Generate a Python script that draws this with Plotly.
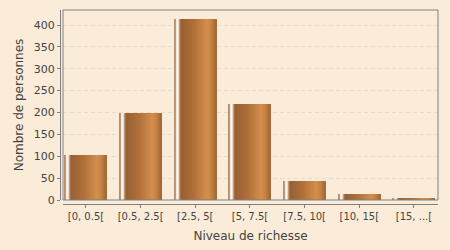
import plotly.graph_objects as go

categories = ["[0, 0.5[", "[0.5, 2.5[", "[2.5, 5[", "[5, 7.5[", "[7.5, 10[", "[10, 15[", "[15, ...["]
values = [104, 200, 414, 220, 43, 14, 3]
y_ticks = [0, 50, 100, 150, 200, 250, 300, 350, 400]

BG = "#FBECD9"
AXIS = "#808080"
TXT = "#444444"
FONT = "DejaVu Sans"

# horizontal colour profile across a bar (px from left of a 42px bar)
profile = [
    (0, (176, 136, 100)), (1.5, (192, 156, 124)), (2.5, (240, 230, 220)),
    (3, (252, 250, 246)), (4, (250, 246, 240)), (5, (212, 186, 160)),
    (6, (170, 122, 86)), (7.5, (152, 96, 50)), (20, (176, 112, 58)),
    (33, (212, 142, 76)), (37, (200, 132, 68)), (42, (160, 104, 56)),
]

def colour_at(p):
    for (p0, c0), (p1, c1) in zip(profile, profile[1:]):
        if p0 <= p <= p1:
            t = (p - p0) / (p1 - p0) if p1 > p0 else 0
            r, g, b = (round(a + (b_ - a) * t) for a, b_ in zip(c0, c1))
            return f"rgb({r},{g},{b})"
    return "rgb(160,104,56)"

BAR_W = 0.768
NPX = 42
fig = go.Figure()
for i in range(NPX):
    fig.add_trace(go.Bar(
        x=categories, y=values,
        offset=-BAR_W / 2 + i * BAR_W / NPX,
        width=BAR_W / NPX * 1.3 if i < NPX - 1 else BAR_W / NPX,
        marker=dict(color=colour_at(i + 0.5), line=dict(width=0)),
        hoverinfo="skip", showlegend=False,
    ))

fig.update_layout(
    width=450, height=250,
    margin=dict(l=60, r=12, t=10, b=46),
    paper_bgcolor=BG, plot_bgcolor=BG,
    barmode="overlay", bargap=0,
    font=dict(family=FONT, size=11, color=TXT),
    xaxis=dict(
        type="category", domain=[3 / 378, 1], anchor="free", position=0,
        range=[-0.42, 6.44], showgrid=False, zeroline=False,
        showline=True, linecolor=AXIS, linewidth=1,
        ticks="outside", ticklen=3, tickcolor=AXIS,
        tickfont=dict(size=10),
        title=dict(text="Niveau de richesse", font=dict(size=12), standoff=10),
    ),
    yaxis=dict(
        domain=[4 / 194, 1], anchor="free", position=0,
        range=[0, 434.3], tickvals=y_ticks, zeroline=False,
        showgrid=True, gridcolor="#E6DCD0", griddash="4px,3px", gridwidth=1,
        showline=True, linecolor=AXIS, linewidth=1,
        ticks="outside", ticklen=3, tickcolor=AXIS,
        tickfont=dict(size=11),
        title=dict(text="Nombre de personnes", font=dict(size=12), standoff=6),
    ),
    shapes=[dict(type="rect", xref="x domain", yref="y domain", x0=0, x1=1, y0=0, y1=1,
                 line=dict(color=AXIS, width=1), fillcolor="rgba(0,0,0,0)", layer="above")],
)

fig.write_html("out.html")
